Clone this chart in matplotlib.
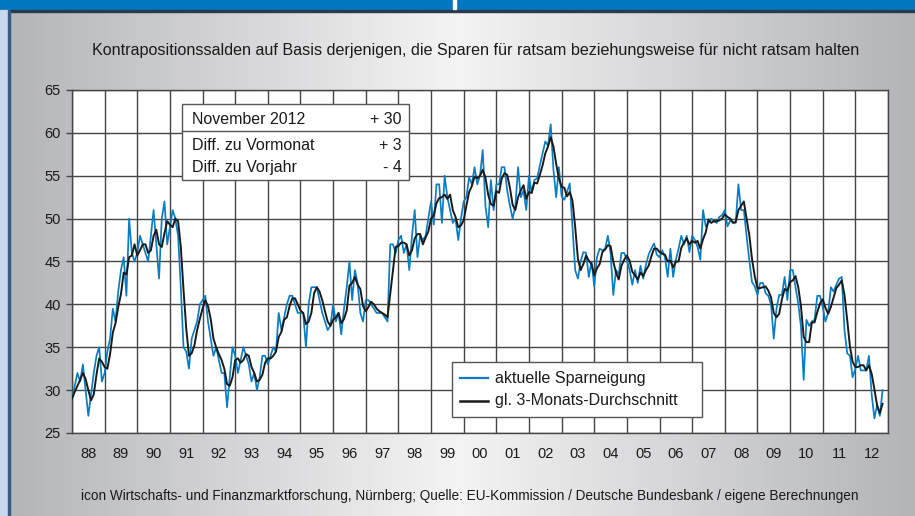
import numpy as np
import matplotlib
matplotlib.use("Agg")
import matplotlib.pyplot as plt
from matplotlib.colors import LinearSegmentedColormap
from matplotlib.patches import Rectangle
from matplotlib.lines import Line2D

plt.rcParams['font.family'] = ['Liberation Sans', 'DejaVu Sans']

# ---------------- data ----------------
years = list(range(1988, 2013))
year_labels = [f"{y % 100:02d}" for y in years]
y_ticks = [25, 30, 35, 40, 45, 50, 55, 60, 65]

# aktuelle Sparneigung (monthly, Jan 1988 - Nov 2012)
spar_1988 = [29, 30.5, 32, 31, 33, 30, 27, 29.5, 32, 34, 35, 31]
spar_1989 = [32, 34.5, 36, 39.5, 38, 41.5, 44, 45.5, 41, 50, 46, 45]
spar_1990 = [46, 48, 47, 46, 45, 48, 51, 47, 43, 50, 52, 47]
spar_1991 = [49, 51, 50, 48, 42, 35, 34.5, 32.5, 36, 37, 38, 40]
spar_1992 = [40.5, 41, 38, 36, 34, 35, 33.5, 32, 32, 28, 31.5, 35]
spar_1993 = [34, 32, 33.5, 35, 34, 33, 31, 32, 30, 31.5, 34, 34]
spar_1994 = [33, 34, 35, 34.5, 39, 37, 38.5, 40, 41, 41, 40, 39]
spar_1995 = [39, 39, 35, 40, 42, 42, 42, 40.5, 39, 38, 37, 37.5]
spar_1996 = [40, 38, 39, 36.5, 39.5, 42, 45, 40.5, 44, 42.5, 39, 38]
spar_1997 = [40.5, 40.5, 40, 39.5, 39, 39, 39, 38.5, 38, 47, 47, 46]
spar_1998 = [47.5, 48, 46, 47, 44, 48, 51, 45.5, 48, 47.5, 48, 50]
spar_1999 = [52, 49.3, 54, 54, 49.5, 55, 52.5, 51, 49.5, 50, 47.5, 50]
spar_2000 = [52, 52.5, 54.8, 54, 56, 54, 55, 58, 51.5, 49, 54.5, 51]
spar_2001 = [54, 54, 56, 56, 53.3, 51.5, 50, 51.5, 56, 52.5, 53.3, 51]
spar_2002 = [55, 53, 54.5, 54.7, 56.2, 57.6, 59, 58.5, 61, 55.7, 52.5, 56]
spar_2003 = [52.6, 52.2, 53.1, 54.1, 49, 44, 43, 45, 46.1, 46, 43.2, 45]
spar_2004 = [42.1, 45.5, 46.5, 46.3, 46.5, 48, 46, 41.1, 44, 43.5, 46, 46]
spar_2005 = [45.2, 44, 42.3, 44, 42.5, 44.5, 43, 44.6, 45.8, 46.5, 47.1, 45.8]
spar_2006 = [45.5, 46.3, 45.5, 43.2, 46.5, 43.2, 45.2, 46.5, 48, 47, 48, 46.1]
spar_2007 = [48, 47.5, 46.7, 45.2, 51, 49.1, 49.5, 50, 49.7, 49.5, 50.2, 50.4]
spar_2008 = [51, 49.1, 49.8, 49.6, 49.5, 54, 51, 51, 48, 45.2, 42.6, 42.1]
spar_2009 = [41.1, 42.5, 42.5, 41.3, 41, 40, 36, 39.5, 41.1, 41.1, 43.2, 40.5]
spar_2010 = [44, 44, 42, 40.1, 37.4, 31.2, 38.2, 37.5, 38, 38.2, 41, 41]
spar_2011 = [39.7, 38, 39, 42, 41.5, 42.3, 43, 43.2, 37, 34.3, 34, 31.5]
spar_2012 = [32.5, 34, 32.3, 32.3, 32.3, 34, 29.5, 26.7, 28.3, 27, 30]

# gl. 3-Monats-Durchschnitt
avg_1988 = [29, 29.8, 30.5, 31.2, 32, 31.3, 30, 28.8, 29.5, 31.8, 33.7, 33.3]
avg_1989 = [32.7, 32.5, 34.2, 36.7, 37.8, 39.7, 41.2, 43.7, 43.5, 45.5, 45.7, 47]
avg_1990 = [45.7, 46.3, 47, 47, 46, 46.3, 48, 48.7, 47, 46.7, 48.3, 49.7]
avg_1991 = [49.3, 49, 50, 49.7, 46.7, 41.7, 37.2, 34, 34.3, 35.2, 37, 38.3]
avg_1992 = [39.5, 40.5, 39.8, 38.3, 36, 35, 34.2, 33.5, 32.5, 30.7, 30.5, 31.5]
avg_1993 = [33.5, 33.7, 33.2, 33.5, 34.2, 34, 32.7, 32, 31, 31.2, 31.8, 33.2]
avg_1994 = [33.7, 33.7, 34, 34.5, 36.2, 36.8, 38.2, 38.5, 39.8, 40.7, 40.7, 40]
avg_1995 = [39.3, 39, 37.7, 38, 39, 41.3, 42, 41.5, 40.5, 39.2, 38, 37.5]
avg_1996 = [38.2, 38.5, 39, 37.8, 38.3, 39.3, 42.2, 42.5, 43.2, 42.3, 41.8, 39.8]
avg_1997 = [39.2, 39.7, 40.3, 40, 39.5, 39.2, 39, 38.8, 38.5, 41.2, 44, 46.7]
avg_1998 = [46.8, 47.2, 47.2, 47, 45.7, 46.3, 47.7, 48.2, 48.2, 47, 47.8, 48.5]
avg_1999 = [50, 50.4, 51.8, 52.4, 52.5, 52.8, 52.3, 52.8, 51, 50.2, 49, 49.2]
avg_2000 = [49.8, 51.5, 53.1, 53.8, 54.9, 54.7, 55, 55.7, 54.8, 52.8, 51.7, 51.5]
avg_2001 = [53.2, 53, 54.7, 55.3, 55.1, 53.6, 51.6, 51, 52.5, 53.3, 53.9, 52.3]
avg_2002 = [53.1, 53, 54.2, 54.1, 55.1, 56.2, 57.6, 58.4, 59.5, 58.4, 56.4, 54.7]
avg_2003 = [53.7, 53.6, 52.6, 53.1, 52.1, 49, 45.3, 44, 44.7, 45.7, 45.1, 44.7]
avg_2004 = [43.4, 44.2, 44.7, 46.1, 46.4, 46.9, 46.8, 45, 43.7, 42.9, 44.5, 45.2]
avg_2005 = [45.7, 45.1, 43.8, 43.4, 42.9, 43.7, 43.3, 44, 44.5, 45.6, 46.5, 46.5]
avg_2006 = [46.1, 45.9, 45.8, 45, 45.1, 44.3, 45, 45, 46.6, 47.2, 47.7, 47]
avg_2007 = [47.4, 47.2, 47.4, 46.5, 47.6, 48.4, 49.9, 49.5, 49.7, 49.7, 49.8, 50]
avg_2008 = [50.5, 50.2, 50, 49.5, 49.6, 51, 51.5, 52, 50, 48.1, 45.3, 43.3]
avg_2009 = [41.9, 41.9, 42, 42.1, 41.6, 40.8, 39, 38.5, 38.9, 40.6, 41.8, 41.6]
avg_2010 = [42.6, 42.8, 43.3, 42, 39.8, 36.2, 35.6, 35.6, 37.9, 37.9, 39.1, 40.1]
avg_2011 = [40.6, 39.6, 38.9, 39.7, 40.8, 41.9, 42.3, 42.8, 41.1, 38.2, 35.1, 33.3]
avg_2012 = [32.7, 32.7, 32.9, 32.9, 32.3, 32.9, 31.9, 30.1, 28.2, 27.3, 28.4]

spar_years = [spar_1988, spar_1989, spar_1990, spar_1991, spar_1992, spar_1993,
              spar_1994, spar_1995, spar_1996, spar_1997, spar_1998, spar_1999,
              spar_2000, spar_2001, spar_2002, spar_2003, spar_2004, spar_2005,
              spar_2006, spar_2007, spar_2008, spar_2009, spar_2010, spar_2011,
              spar_2012]
avg_years = [avg_1988, avg_1989, avg_1990, avg_1991, avg_1992, avg_1993,
             avg_1994, avg_1995, avg_1996, avg_1997, avg_1998, avg_1999,
             avg_2000, avg_2001, avg_2002, avg_2003, avg_2004, avg_2005,
             avg_2006, avg_2007, avg_2008, avg_2009, avg_2010, avg_2011,
             avg_2012]
sparneigung = np.concatenate(spar_years)
durchschnitt = np.concatenate(avg_years)
months = np.arange(len(sparneigung))  # month index counted from Jan 1988

info_rows = [("November 2012", "+ 30"), ("Diff. zu Vormonat", "+ 3"), ("Diff. zu Vorjahr", "- 4")]
legend_labels = ["aktuelle Sparneigung", "gl. 3-Monats-Durchschnitt"]
subtitle = ("Kontrapositionssalden auf Basis derjenigen, die Sparen für ratsam "
            "beziehungsweise für nicht ratsam halten")
source = ("icon Wirtschafts- und Finanzmarktforschung, Nürnberg; Quelle: EU-Kommission / "
          "Deutsche Bundesbank / eigene Berechnungen")

BLUE = '#0a7dc2'
BLACK = '#1a1a1a'
GRID = '#454545'

# ---------------- figure ----------------
W, H = 915, 516
fig = plt.figure(figsize=(W / 100, H / 100), dpi=100)

# background gradient
bg = fig.add_axes([0, 0, 1, 1])
cmap = LinearSegmentedColormap.from_list(
    'bg', [(0.0, '#b3b4b8'), (0.5, '#f4f4f4'), (1.0, '#b3b4b8')])
grad = np.linspace(0, 1, 512).reshape(1, -1)
bg.imshow(grad, aspect='auto', cmap=cmap, extent=[0, 1, 0, 1])
bg.set_xlim(0, 1)
bg.set_ylim(0, 1)
bg.axis('off')
# header band
bg.add_patch(Rectangle((0, 1 - 10 / H), 1, 10 / H, color='#0077c0', zorder=2))
bg.add_patch(Rectangle((0, 1 - 12 / H), 1, 2 / H, color='#2b3a4c', zorder=2))
bg.add_patch(Rectangle((453 / W, 1 - 9 / H), 3 / W, 9 / H, color='white', zorder=3))
# left border
bg.add_patch(Rectangle((0, 0), 8 / W, 1 - 10 / H, color='#c9d8ec', zorder=2))
bg.add_patch(Rectangle((8 / W, 0), 2 / W, 1 - 10 / H, color='#3a5a86', zorder=2))

fig.text(476 / W, 1 - 50 / H, subtitle, ha='center', va='center',
         fontsize=11.6, color='#1a1a1a')
fig.text(470 / W, 1 - 496 / H, source, ha='center', va='center',
         fontsize=9.8, color='#1a1a1a')

# main axes
L, R, T, B = 72, 888, 90, 433
ax = fig.add_axes([L / W, 1 - B / H, (R - L) / W, (B - T) / H])
ax.set_facecolor('white')
ax.set_xlim(0, 12 * len(years))
ax.set_ylim(25, 65)
ax.set_axisbelow(True)

ax.set_xticks(np.arange(0, 12 * len(years) + 1, 12))
ax.set_xticks(np.arange(6, 12 * len(years), 12), minor=True)
ax.set_xticklabels(year_labels, minor=True)
ax.tick_params(axis='x', which='major', length=0, labelbottom=False)
ax.tick_params(axis='x', which='minor', length=0, pad=10, labelsize=10.5,
               labelcolor='#1a1a1a')
ax.set_yticks(y_ticks)
ax.tick_params(axis='y', length=4, width=1, color=GRID, pad=4, labelsize=10.5,
               labelcolor='#1a1a1a')
ax.grid(True, which='major', color=GRID, lw=1.0)
for s in ax.spines.values():
    s.set_color(GRID)
    s.set_linewidth(1.0)

ax.plot(months, sparneigung, color=BLUE, lw=1.25, zorder=3)
ax.plot(months, durchschnitt, color=BLACK, lw=1.4, zorder=4)

# info box
def ax_x(px):
    return (px - L) / (R - L)

def ax_y(py):
    return (B - py) / (B - T)

bx0, bx1, by0, by1 = ax_x(182), ax_x(409), ax_y(180), ax_y(104)
ax.add_patch(Rectangle((bx0, by0), bx1 - bx0, by1 - by0, transform=ax.transAxes,
                       facecolor='white', edgecolor='#555555', lw=1.0, zorder=5))
ax.add_line(Line2D([bx0, bx1], [ax_y(130.7)] * 2, transform=ax.transAxes,
                   color='#555555', lw=1.0, zorder=6))
for (lab, val), py in zip(info_rows, [119.3, 145, 167.3]):
    ax.text(ax_x(192.3), ax_y(py), lab, transform=ax.transAxes, ha='left',
            va='center', fontsize=11.5, color='#1a1a1a', zorder=7)
    ax.text(ax_x(402), ax_y(py), val, transform=ax.transAxes, ha='right',
            va='center', fontsize=11.5, color='#1a1a1a', zorder=7)

# legend box
lx0, lx1, ly0, ly1 = ax_x(452), ax_x(702), ax_y(416.7), ax_y(361.7)
ax.add_patch(Rectangle((lx0, ly0), lx1 - lx0, ly1 - ly0, transform=ax.transAxes,
                       facecolor='white', edgecolor='#555555', lw=1.0, zorder=5))
for lab, col, py, lw in zip(legend_labels, [BLUE, BLACK], [378.3, 400.7], [1.6, 1.8]):
    ax.add_line(Line2D([ax_x(460), ax_x(488)], [ax_y(py)] * 2,
                       transform=ax.transAxes, color=col, lw=lw, zorder=6))
    ax.text(ax_x(495), ax_y(py), lab, transform=ax.transAxes, ha='left',
            va='center', fontsize=11.5, color='#1a1a1a', zorder=7)

fig.savefig('out.png', dpi=100)
